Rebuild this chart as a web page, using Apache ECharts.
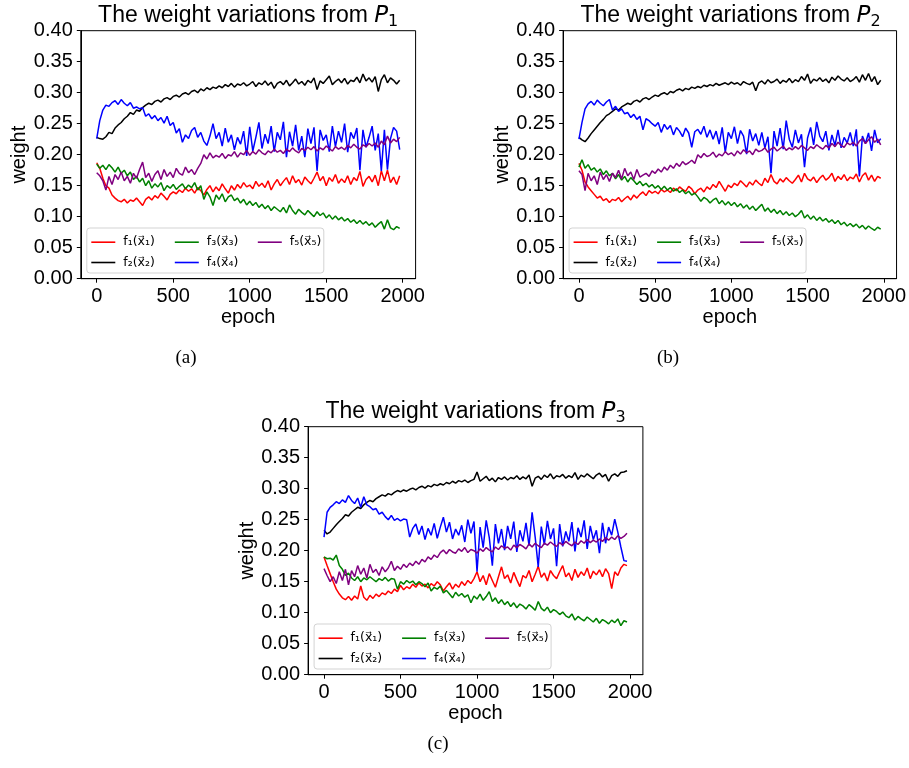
<!DOCTYPE html>
<html><head><meta charset="utf-8">
<script src="https://cdn.jsdelivr.net/npm/echarts@6/dist/echarts.min.js"></script>
<style>html,body{margin:0;padding:0;background:#fff}#c{width:909px;height:768px}</style>
</head><body><div id="c"></div>
<script>
const epochs = [0,20,40,60,80,100,120,140,160,180,200,220,240,260,280,300,320,340,360,380,
400,420,440,460,480,500,520,540,560,580,600,620,640,660,680,700,720,740,760,780,
800,820,840,860,880,900,920,940,960,980,1000,1020,1040,1060,1080,1100,1120,1140,1160,1180,
1200,1220,1240,1260,1280,1300,1320,1340,1360,1380,1400,1420,1440,1460,1480,1500,1520,1540,1560,1580,
1600,1620,1640,1660,1680,1700,1720,1740,1760,1780,1800,1820,1840,1860,1880,1900,1920,1940,1960,1980];
const xTickValues = [0,500,1000,1500,2000];
const seriesNames = ['f\u2081(x\u20D7\u2081)','f\u2082(x\u20D7\u2082)','f\u2083(x\u20D7\u2083)','f\u2084(x\u20D7\u2084)','f\u2085(x\u20D7\u2085)'];
const seriesColors = ['#ff0000','#000000','#008000','#0000ff','#800080'];

// Panel (a) – P1
const a_f1 = [0.187,0.178,0.162,0.150,0.146,0.135,0.130,0.126,0.124,0.128,
0.122,0.127,0.125,0.130,0.124,0.118,0.128,0.132,0.127,0.134,
0.130,0.138,0.133,0.127,0.136,0.140,0.137,0.143,0.139,0.146,
0.141,0.145,0.138,0.147,0.142,0.135,0.144,0.150,0.140,0.148,
0.142,0.153,0.145,0.138,0.150,0.143,0.152,0.146,0.155,0.148,
0.151,0.145,0.157,0.149,0.154,0.147,0.158,0.143,0.153,0.160,
0.150,0.157,0.163,0.152,0.166,0.155,0.160,0.151,0.164,0.158,
0.153,0.162,0.172,0.158,0.165,0.150,0.163,0.157,0.168,0.154,
0.161,0.155,0.166,0.152,0.163,0.158,0.173,0.149,0.160,0.165,
0.156,0.167,0.150,0.174,0.158,0.175,0.155,0.164,0.152,0.166];
const a_f2 = [0.228,0.226,0.225,0.229,0.236,0.234,0.243,0.248,0.252,0.258,
0.262,0.268,0.265,0.272,0.270,0.276,0.280,0.283,0.281,0.286,
0.288,0.285,0.290,0.292,0.289,0.294,0.296,0.293,0.298,0.300,
0.297,0.302,0.304,0.300,0.306,0.303,0.308,0.305,0.309,0.307,
0.311,0.308,0.313,0.310,0.315,0.309,0.314,0.312,0.316,0.311,
0.314,0.318,0.310,0.316,0.313,0.319,0.312,0.317,0.307,0.315,
0.318,0.313,0.320,0.311,0.316,0.322,0.314,0.318,0.312,0.320,
0.316,0.324,0.305,0.319,0.315,0.321,0.327,0.313,0.318,0.322,
0.316,0.323,0.314,0.320,0.318,0.325,0.316,0.330,0.319,0.324,
0.317,0.326,0.302,0.321,0.329,0.316,0.324,0.320,0.314,0.320];
const a_f3 = [0.185,0.178,0.183,0.176,0.184,0.179,0.172,0.180,0.170,0.175,
0.166,0.172,0.160,0.165,0.156,0.162,0.150,0.158,0.146,0.153,
0.148,0.155,0.142,0.150,0.146,0.152,0.144,0.149,0.153,0.145,
0.151,0.147,0.155,0.143,0.150,0.128,0.140,0.132,0.118,0.135,
0.128,0.137,0.124,0.132,0.135,0.126,0.130,0.122,0.128,0.119,
0.125,0.118,0.123,0.115,0.120,0.113,0.118,0.110,0.116,0.112,
0.108,0.115,0.106,0.119,0.110,0.104,0.112,0.107,0.103,0.110,
0.105,0.100,0.108,0.102,0.106,0.098,0.103,0.096,0.101,0.095,
0.099,0.093,0.097,0.091,0.095,0.089,0.094,0.088,0.092,0.086,
0.090,0.083,0.088,0.092,0.080,0.095,0.082,0.079,0.084,0.081];
const a_f4 = [0.226,0.255,0.272,0.280,0.278,0.284,0.287,0.281,0.289,0.283,
0.279,0.284,0.275,0.277,0.274,0.276,0.262,0.266,0.258,0.263,
0.255,0.260,0.251,0.262,0.247,0.252,0.235,0.242,0.220,0.232,
0.226,0.239,0.244,0.228,0.236,0.222,0.215,0.230,0.250,0.226,
0.236,0.214,0.243,0.220,0.232,0.208,0.228,0.217,0.238,0.198,
0.245,0.206,0.228,0.252,0.210,0.233,0.218,0.246,0.205,0.236,
0.224,0.253,0.196,0.237,0.214,0.248,0.207,0.230,0.196,0.242,
0.218,0.244,0.174,0.240,0.223,0.232,0.205,0.246,0.213,0.238,
0.220,0.250,0.204,0.236,0.226,0.243,0.175,0.240,0.212,0.228,
0.246,0.207,0.234,0.174,0.240,0.176,0.226,0.244,0.238,0.208];
const a_f5 = [0.171,0.166,0.158,0.143,0.165,0.152,0.168,0.160,0.172,0.158,
0.165,0.154,0.170,0.162,0.176,0.188,0.163,0.170,0.157,0.168,
0.174,0.160,0.176,0.165,0.172,0.163,0.178,0.170,0.167,0.180,
0.171,0.176,0.168,0.178,0.186,0.200,0.193,0.203,0.195,0.199,
0.196,0.202,0.194,0.200,0.198,0.205,0.196,0.203,0.200,0.207,
0.199,0.205,0.201,0.208,0.203,0.200,0.206,0.203,0.209,0.204,
0.207,0.202,0.209,0.205,0.211,0.206,0.203,0.210,0.207,0.212,
0.208,0.213,0.206,0.211,0.208,0.214,0.210,0.206,0.213,0.209,
0.212,0.208,0.215,0.211,0.217,0.212,0.209,0.216,0.213,0.218,
0.214,0.219,0.212,0.222,0.216,0.230,0.219,0.225,0.221,0.228];

// Panel (b) – P2
const b_f1 = [0.186,0.175,0.156,0.148,0.142,0.136,0.130,0.133,0.126,0.129,
0.123,0.128,0.126,0.131,0.124,0.129,0.133,0.127,0.135,0.130,
0.136,0.140,0.134,0.142,0.138,0.141,0.137,0.144,0.140,0.143,
0.139,0.146,0.142,0.148,0.144,0.141,0.149,0.145,0.137,0.143,
0.146,0.140,0.148,0.144,0.152,0.147,0.157,0.149,0.141,0.151,
0.147,0.154,0.150,0.158,0.153,0.148,0.156,0.151,0.159,0.154,
0.150,0.162,0.155,0.168,0.157,0.153,0.161,0.156,0.163,0.158,
0.154,0.160,0.167,0.156,0.170,0.161,0.158,0.164,0.155,0.162,
0.167,0.159,0.163,0.170,0.157,0.165,0.160,0.168,0.158,0.164,
0.161,0.169,0.156,0.166,0.171,0.159,0.167,0.157,0.165,0.162];
const b_f2 = [0.228,0.224,0.221,0.227,0.234,0.240,0.246,0.252,0.257,0.263,
0.266,0.270,0.274,0.272,0.277,0.280,0.283,0.281,0.286,0.288,
0.285,0.290,0.292,0.289,0.293,0.296,0.294,0.298,0.300,0.297,
0.302,0.300,0.304,0.306,0.303,0.307,0.305,0.309,0.307,0.310,
0.308,0.312,0.310,0.313,0.311,0.315,0.312,0.314,0.316,0.313,
0.317,0.314,0.316,0.312,0.318,0.315,0.313,0.317,0.303,0.316,
0.319,0.314,0.321,0.316,0.318,0.322,0.315,0.320,0.317,0.323,
0.316,0.321,0.318,0.326,0.320,0.330,0.315,0.322,0.319,0.324,
0.318,0.322,0.316,0.325,0.320,0.327,0.322,0.319,0.324,0.318,
0.321,0.326,0.317,0.329,0.320,0.331,0.318,0.326,0.313,0.320];
const b_f3 = [0.180,0.192,0.178,0.184,0.175,0.179,0.172,0.177,0.168,0.174,
0.166,0.170,0.161,0.168,0.159,0.165,0.156,0.163,0.158,0.152,
0.157,0.150,0.154,0.148,0.152,0.146,0.150,0.144,0.149,0.143,
0.147,0.141,0.145,0.139,0.143,0.137,0.141,0.135,0.138,0.132,
0.125,0.131,0.128,0.122,0.127,0.130,0.121,0.126,0.119,0.124,
0.118,0.123,0.116,0.121,0.114,0.119,0.112,0.117,0.110,0.115,
0.120,0.109,0.114,0.107,0.112,0.105,0.110,0.103,0.108,0.102,
0.106,0.100,0.104,0.110,0.098,0.103,0.096,0.101,0.094,0.099,
0.093,0.097,0.091,0.095,0.089,0.094,0.087,0.091,0.085,0.089,
0.084,0.088,0.082,0.086,0.080,0.085,0.081,0.078,0.083,0.080];
const b_f4 = [0.225,0.252,0.274,0.282,0.286,0.280,0.288,0.283,0.279,0.285,
0.289,0.272,0.278,0.270,0.274,0.266,0.268,0.260,0.265,0.257,
0.262,0.240,0.258,0.255,0.250,0.246,0.252,0.236,0.249,0.241,
0.247,0.232,0.244,0.238,0.229,0.243,0.235,0.212,0.237,0.241,
0.233,0.246,0.228,0.240,0.225,0.238,0.217,0.244,0.204,0.236,
0.226,0.245,0.218,0.239,0.230,0.201,0.241,0.222,0.234,0.215,
0.236,0.211,0.229,0.170,0.238,0.214,0.243,0.209,0.255,0.225,
0.212,0.240,0.219,0.233,0.180,0.227,0.244,0.216,0.253,0.230,
0.221,0.238,0.207,0.232,0.215,0.240,0.211,0.228,0.219,0.236,
0.214,0.241,0.165,0.230,0.218,0.235,0.206,0.240,0.219,0.226];
const b_f5 = [0.174,0.168,0.142,0.170,0.158,0.166,0.152,0.172,0.160,0.168,
0.157,0.170,0.163,0.175,0.161,0.178,0.166,0.172,0.160,0.176,
0.164,0.167,0.170,0.165,0.174,0.170,0.177,0.172,0.180,0.175,
0.183,0.178,0.186,0.181,0.189,0.184,0.187,0.191,0.186,0.200,
0.195,0.202,0.197,0.199,0.204,0.196,0.201,0.198,0.205,0.200,
0.203,0.198,0.206,0.201,0.208,0.203,0.206,0.200,0.209,0.205,
0.207,0.211,0.204,0.209,0.212,0.206,0.210,0.214,0.207,0.211,
0.208,0.213,0.209,0.215,0.211,0.207,0.213,0.210,0.216,0.212,
0.209,0.215,0.211,0.218,0.213,0.220,0.215,0.212,0.219,0.216,
0.220,0.214,0.222,0.226,0.218,0.224,0.229,0.220,0.225,0.216];

// Panel (c) – P3
const c_f1 = [0.190,0.176,0.163,0.150,0.138,0.130,0.124,0.121,0.126,0.120,
0.127,0.122,0.143,0.125,0.120,0.128,0.123,0.130,0.126,0.132,
0.129,0.135,0.131,0.138,0.134,0.144,0.137,0.142,0.139,0.146,
0.141,0.148,0.143,0.146,0.140,0.147,0.143,0.150,0.145,0.135,
0.142,0.148,0.138,0.146,0.141,0.150,0.144,0.152,0.147,0.155,
0.166,0.150,0.160,0.145,0.163,0.152,0.141,0.158,0.174,0.155,
0.161,0.148,0.165,0.153,0.142,0.160,0.156,0.168,0.150,0.162,
0.175,0.157,0.164,0.151,0.168,0.160,0.155,0.166,0.176,0.158,
0.164,0.152,0.170,0.157,0.166,0.160,0.172,0.155,0.167,0.161,
0.169,0.158,0.171,0.163,0.139,0.166,0.160,0.172,0.178,0.176];
const c_f2 = [0.233,0.227,0.230,0.236,0.242,0.247,0.252,0.258,0.256,0.262,
0.266,0.270,0.268,0.274,0.278,0.281,0.279,0.284,0.287,0.290,
0.288,0.292,0.290,0.294,0.297,0.295,0.298,0.296,0.299,0.301,
0.298,0.302,0.304,0.301,0.305,0.303,0.307,0.305,0.308,0.306,
0.310,0.308,0.312,0.309,0.313,0.311,0.314,0.310,0.313,0.315,
0.327,0.312,0.316,0.320,0.313,0.317,0.311,0.318,0.315,0.319,
0.314,0.318,0.316,0.321,0.315,0.319,0.316,0.322,0.304,0.317,
0.320,0.315,0.322,0.318,0.324,0.316,0.321,0.319,0.323,0.317,
0.321,0.318,0.326,0.315,0.322,0.319,0.324,0.320,0.316,0.322,
0.325,0.319,0.323,0.312,0.321,0.324,0.320,0.326,0.327,0.329];
const c_f3 = [0.190,0.187,0.188,0.185,0.193,0.176,0.170,0.160,0.164,0.156,
0.152,0.158,0.150,0.156,0.153,0.158,0.154,0.150,0.155,0.152,
0.157,0.151,0.155,0.154,0.138,0.150,0.146,0.152,0.148,0.151,
0.145,0.150,0.147,0.142,0.148,0.135,0.141,0.138,0.143,0.132,
0.136,0.130,0.124,0.133,0.127,0.131,0.125,0.129,0.116,0.127,
0.122,0.130,0.120,0.126,0.134,0.118,0.124,0.115,0.121,0.113,
0.118,0.110,0.116,0.108,0.114,0.111,0.106,0.113,0.109,0.104,
0.118,0.107,0.103,0.109,0.100,0.105,0.102,0.097,0.101,0.095,
0.092,0.098,0.088,0.094,0.090,0.087,0.093,0.089,0.085,0.091,
0.083,0.089,0.086,0.082,0.088,0.084,0.090,0.079,0.087,0.085];
const c_f4 = [0.222,0.262,0.270,0.274,0.279,0.276,0.282,0.278,0.289,0.281,
0.276,0.285,0.270,0.287,0.274,0.271,0.266,0.268,0.259,0.262,
0.255,0.250,0.257,0.249,0.252,0.248,0.251,0.250,0.222,0.236,
0.243,0.226,0.240,0.218,0.236,0.225,0.244,0.220,0.238,0.254,
0.230,0.246,0.219,0.235,0.225,0.241,0.214,0.250,0.228,0.247,
0.166,0.238,0.205,0.249,0.221,0.176,0.243,0.212,0.235,0.201,
0.240,0.219,0.247,0.198,0.233,0.215,0.245,0.208,0.262,0.222,
0.174,0.239,0.210,0.248,0.219,0.236,0.175,0.243,0.207,0.231,
0.215,0.246,0.199,0.237,0.222,0.249,0.203,0.240,0.218,0.233,
0.196,0.245,0.212,0.238,0.225,0.251,0.230,0.206,0.184,0.183];
const c_f5 = [0.171,0.160,0.150,0.158,0.147,0.166,0.152,0.170,0.145,0.168,
0.158,0.176,0.162,0.172,0.156,0.178,0.165,0.170,0.160,0.174,
0.166,0.172,0.183,0.168,0.175,0.170,0.178,0.173,0.180,0.176,
0.183,0.178,0.186,0.182,0.190,0.186,0.193,0.189,0.197,0.201,
0.195,0.202,0.198,0.196,0.203,0.199,0.205,0.197,0.202,0.200,
0.196,0.203,0.199,0.205,0.201,0.198,0.206,0.202,0.208,0.204,
0.206,0.201,0.209,0.205,0.210,0.207,0.203,0.211,0.206,0.212,
0.208,0.205,0.212,0.209,0.214,0.210,0.207,0.213,0.209,0.215,
0.211,0.208,0.214,0.210,0.216,0.212,0.218,0.213,0.217,0.214,
0.219,0.215,0.221,0.217,0.222,0.218,0.224,0.220,0.223,0.228];

const panels = [
  {sub:'1', caption:'(a)', values:[a_f1,a_f2,a_f3,a_f4,a_f5], left:80.8, top:30.7, capX:186, capY:358},
  {sub:'2', caption:'(b)', values:[b_f1,b_f2,b_f3,b_f4,b_f5], left:563.1, top:30.7, capX:668, capY:358},
  {sub:'3', caption:'(c)', values:[c_f1,c_f2,c_f3,c_f4,c_f5], left:308.1, top:426.7, capX:438, capY:744}
];
const GW = 334.8, GH = 248;
const FONT = 'Liberation Sans, Arial, sans-serif';

const option = {
  animation:false, backgroundColor:'#fff',
  title:[], grid:[], xAxis:[], yAxis:[], series:[], legend:[], graphic:[]
};
panels.forEach((p, k) => {
  const bottom = p.top + GH;
  option.grid.push({left:p.left, top:p.top, width:GW, height:GH, show:true, borderColor:'#000', borderWidth:1, backgroundColor:'transparent'});
  option.title.push({
    text:'{n|The weight variations from }{p|P}{s|' + p.sub + '}',
    left:p.left + GW/2, textAlign:'center', top:p.top - 29, padding:0,
    textStyle:{fontWeight:'normal', rich:{
      n:{fontSize:23, fontFamily:FONT, fontWeight:'normal', color:'#000'},
      p:{fontSize:23, fontFamily:'DejaVu Sans', fontStyle:'italic', fontWeight:'normal', color:'#000'},
      s:{fontSize:16, fontFamily:'DejaVu Sans', fontWeight:'normal', color:'#000', padding:[12,0,0,0]}
    }}
  });
  option.xAxis.push({
    type:'value', gridIndex:k, min:-104, max:2084,
    name:'epoch', nameLocation:'middle', nameGap:27,
    nameTextStyle:{fontSize:20, fontFamily:FONT, color:'#000'},
    axisLine:{show:true, onZero:false, lineStyle:{color:'#000', width:1}},
    axisTick:{show:true, length:4, lineStyle:{color:'#000'}, customValues:xTickValues},
    axisLabel:{fontSize:20, fontFamily:FONT, color:'#000', margin:8, customValues:xTickValues, formatter:v => String(v)},
    splitLine:{show:false}
  });
  option.yAxis.push({
    type:'value', gridIndex:k, min:0, max:0.4, interval:0.05,
    name:'weight', nameLocation:'middle', nameGap:47,
    nameTextStyle:{fontSize:20, fontFamily:FONT, color:'#000'},
    axisLine:{show:true, onZero:false, lineStyle:{color:'#000', width:1}},
    axisTick:{show:true, length:4, lineStyle:{color:'#000'}},
    axisLabel:{fontSize:20, fontFamily:FONT, color:'#000', margin:8, formatter:v => v.toFixed(2)},
    splitLine:{show:false}
  });
  p.values.forEach((vals, j) => {
    option.series.push({
      type:'line', name:seriesNames[j], xAxisIndex:k, yAxisIndex:k,
      data: epochs.map((e,i) => [e, vals[i]]),
      showSymbol:false, symbol:'none', silent:true,
      lineStyle:{color:seriesColors[j], width:1.5}, itemStyle:{color:seriesColors[j]},
      emphasis:{disabled:true}
    });
  });
  // legend frame
  option.graphic.push({type:'rect', z:3, silent:true,
    shape:{x:p.left+6, y:bottom-50.7, width:237, height:45, r:3},
    style:{fill:'rgba(255,255,255,0.8)', stroke:'#d3d3d3', lineWidth:1}});
  const cols = [[0,1],[2,3],[4]];
  const colX = [10.5, 94, 177];
  cols.forEach((c, ci) => {
    option.legend.push({
      orient:'vertical', left:p.left + colX[ci], top:bottom - 36.5 - 7, padding:0,
      itemGap:6.3, itemWidth:24, itemHeight:1.6, icon:'rect', selectedMode:false, z:5,
      data:c.map(j => seriesNames[j]),
      textStyle:{fontSize:12.5, fontFamily:'DejaVu Sans', color:'#000', lineHeight:14, padding:[0,0,0,3]}
    });
  });
  option.graphic.push({type:'text', z:5, silent:true,
    style:{text:p.caption, x:p.capX, y:p.capY, fill:'#000', font:'19px "Liberation Serif", "Times New Roman", serif', textAlign:'center', textVerticalAlign:'middle'}});
});

const chart = echarts.init(document.getElementById('c'), null, {renderer:'canvas', width:909, height:768});
chart.setOption(option);
</script>
</body></html>
